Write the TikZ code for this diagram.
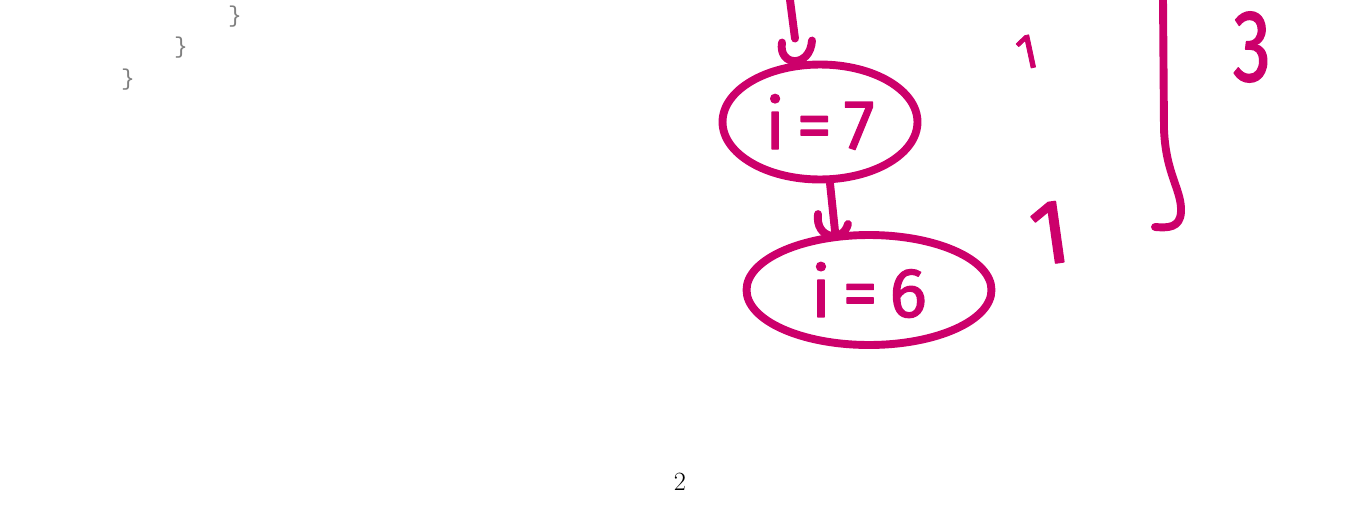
\documentclass[tikz,border=0pt]{standalone}
\usepackage{fontspec}
\setmonofont{Liberation Mono}
\newfontfamily\handfont[FakeBold=1.6]{Fira Sans}
\usepackage{tikz}
\usetikzlibrary{shapes.geometric}
\usetikzlibrary{positioning}
\definecolor{pen}{RGB}{204,0,107}
\definecolor{codegray}{rgb}{0.5,0.5,0.5}

\begin{document}
\begin{tikzpicture}[
            x = 0.02cm, y = -0.02cm, % one unit per pixel, y downwards
            line width = 4.5pt, % pen stroke
            line cap = round,
            line join = round
        ]

        \tikzstyle{every node}=[inner sep = 0pt]
        \tikzstyle{ink}=[draw = pen]
        \tikzstyle{call}=[
            draw = pen,
            ellipse,
            text = pen,
            font = \handfont\fontsize{40}{42}\selectfont
        ]
        \tikzstyle{count}=[text = pen]
        \tikzstyle{brace}=[text = codegray, font = \ttfamily\fontsize{13}{15}\selectfont]

        \useasboundingbox (0,0) rectangle (1348,521);

	% code on the page
        \node[brace] (B1) at (235,17) {\}};
        \node[brace] (B2) at (181,48) {\}};
        \node[brace] (B3) at (128,80) {\}};
        \node[font = \fontsize{15}{18}\selectfont] (PAGE) at (680,482) {2};

        % recursive calls
        \coordinate (TOP) at (790,0);
        \node[call, minimum width = 3.9cm, minimum height = 2.3cm] (I7) at (820,122) {i\,=\,7};
        \node[call, minimum width = 4.9cm, minimum height = 2.2cm] (I6) at (869,290) {i\,=\,6};

        \draw[ink] (TOP) -- ([shift={(-25,-22)}]I7.north);
        \draw[ink] ([shift={(-38,-18)}]I7.north) .. controls ([shift={(-42,6)}]I7.north) and ([shift={(-10,8)}]I7.north) .. ([shift={(-8,-20)}]I7.north);

        \draw[ink] ([shift={(10,0)}]I7.south) -- ([shift={(-34,0)}]I6.north);
        \draw[ink] ([shift={(-51,-17)}]I6.north) .. controls ([shift={(-54,8)}]I6.north) and ([shift={(-26,12)}]I6.north) .. ([shift={(-21,-7)}]I6.north);

        % counting
        \node[count, font = \handfont\fontsize{28}{30}\selectfont, rotate = 12] (C1) at (1027,52) {1};
        \node[count, font = \handfont\fontsize{52}{54}\selectfont, rotate = 8] (C2) at (1050,233) {1};
        \node[count, font = \handfont\fontsize{58}{60}\selectfont, xscale = 0.75] (C3) at (1252,47) {3};

        \coordinate (BTOP) at (1163,0);
        \coordinate (BEND) at (1155,227);
        \draw[ink] (BTOP) -- (1164,130) .. controls (1166,175) and (1182,190) .. (1181,212) .. controls (1180,228) and (1168,228) .. (BEND);

\end{tikzpicture}
\end{document}
